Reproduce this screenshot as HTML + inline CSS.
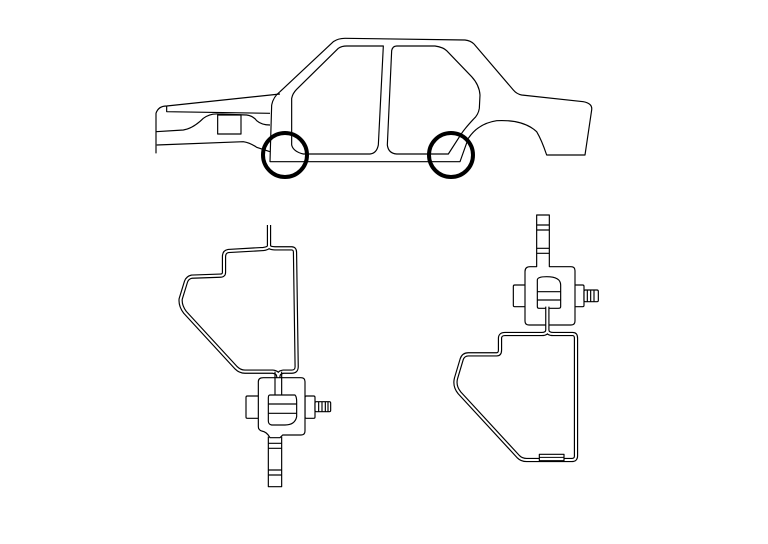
<!DOCTYPE html>
<html><head><meta charset="utf-8"><style>html,body{margin:0;padding:0;background:#fff}svg{display:block}</style></head>
<body>
<svg width="768" height="544" viewBox="0 0 768 544" xmlns="http://www.w3.org/2000/svg">
<rect width="768" height="544" fill="#fff"/>
<!-- Car -->
<g transform="translate(150,30) scale(0.33333)" fill="none" stroke="#000" stroke-width="3.5" stroke-linejoin="round">
 <path d="M365,225 Q370,200 390,185 L550,35 Q565,25 585,25 L945,30 Q962,32 972,42 L1090,180 Q1100,192 1115,195 L1300,215 Q1328,220 1325,240 L1305,375 L1190,375 Q1175,330 1160,305 Q1120,268 1040,272 Q985,280 955,325"/>
 <path d="M365,225 L360,395 L930,395 L955,325"/>
 <path d="M425,205 Q428,190 440,178 L565,55 Q575,48 590,48 L700,48 L685,345 Q680,370 660,372 L460,372 Q430,365 425,345 Z"/>
 <path d="M740,48 L855,48 Q880,52 890,62 L965,140 Q988,165 990,195 L988,235 Q985,255 970,268 Q945,295 935,310 L895,372 L740,372 Q715,370 712,345 L725,62 Q728,48 740,48"/>
 <path d="M50,228 L390,192"/>
 <path d="M50,228 Q25,228 18,250 L18,370"/>
 <path d="M50,228 L50,245 L360,250"/>
 <path d="M18,305 L100,300 Q130,295 160,265 Q180,250 205,252 L290,255 Q310,258 320,272 Q335,285 360,285"/>
 <path d="M20,345 L280,335 Q300,338 320,352 L360,365"/>
 <rect x="203" y="255" width="70" height="57"/>
 <circle cx="405" cy="375" r="66" stroke-width="12"/>
 <circle cx="903" cy="375" r="66" stroke-width="12"/>
</g>
<!-- Bracket 1 -->
<g transform="translate(160,215) scale(0.33333)" fill="none" stroke-linejoin="round">
 <path d="M327,30 L327,92 Q327,100 345,100 L395,100 Q405,100 405,112 L410,455 Q410,470 395,470 L370,470 Q355,472 355,485 L355,545 M327,92 Q327,100 310,102 L205,108 Q192,110 192,125 L192,172 Q192,182 180,182 L95,185 Q82,188 78,200 L62,252 Q60,272 75,292 L228,458 Q240,470 255,470 L338,470 Q355,472 355,485" stroke="#000" stroke-width="13"/>
 <path d="M327,28 L327,92 Q327,100 345,100 L395,100 Q405,100 405,112 L410,455 Q410,470 395,470 L370,470 Q355,472 355,485 L355,547 M327,92 Q327,100 310,102 L205,108 Q192,110 192,125 L192,172 Q192,182 180,182 L95,185 Q82,188 78,200 L62,252 Q60,272 75,292 L228,458 Q240,470 255,470 L338,470 Q355,472 355,485" stroke="#fff" stroke-width="6"/>
 <g stroke="#000" stroke-width="3.5" fill="#fff">
  <rect x="258" y="543" width="42" height="67" rx="4"/>
  <rect x="435" y="543" width="30" height="67" rx="4"/>
  <rect x="465" y="560" width="47" height="30" rx="4"/>
  <path d="M476,560V590M486,560V590M496,560V590M504,560V590" fill="none"/>
  <path d="M325,665 L325,815 L365,815 L365,665" />
  <path d="M325,685H365M325,700H365M325,765H365M325,780H365" fill="none"/>
  <path d="M310,488 L423,488 Q435,488 435,500 L435,648 Q435,660 423,660 L368,660 L360,668 L330,668 Q320,650 305,648 Q295,645 295,635 L295,500 Q295,488 310,488 Z"/>
  <path d="M330,540 L405,540 Q410,545 410,560 L410,605 Q405,630 375,630 L335,630 Q325,628 325,618 L325,548 Q325,540 330,540 Z"/>
  <path d="M325,567H410M325,595H410" fill="none"/>
  <path d="M345,470 L345,540 M365,470 L365,540" fill="none"/>
 </g>
</g>
<!-- Bracket 2 -->
<g transform="translate(440,210) scale(0.33333)" fill="none" stroke-linejoin="round">
 <g stroke="#000" stroke-width="3.5" fill="#fff">
  <rect x="220" y="225" width="38" height="65" rx="4"/>
  <rect x="400" y="225" width="32" height="65" rx="4"/>
  <rect x="432" y="240" width="43" height="35" rx="4"/>
  <path d="M442,240V275M452,240V275M462,240V275" fill="none"/>
  <path d="M270,170 L290,170 L290,15 L328,15 L328,170 L393,170 Q405,170 405,182 L405,333 Q405,345 393,345 L267,345 Q255,345 255,333 L255,185 Q255,170 270,170 Z"/>
  <path d="M290,45H328M290,60H328M290,115H328M290,130H328" fill="none"/>
  <path d="M320,200 Q362,200 362,225 L362,290 Q362,295 355,295 L297,295 Q292,295 292,290 L292,210 Q292,200 320,200 Z"/>
  <path d="M292,245H362M292,270H362" fill="none"/>
 </g>
 <path d="M322,290 L322,360 Q322,372 340,372 L398,372 Q408,372 408,385 L408,738 Q408,750 395,750 L260,750 Q245,750 235,740 L58,548 Q42,528 48,505 L65,448 Q70,433 85,433 L170,433 Q180,433 180,420 L180,385 Q180,372 195,372 L305,372 Q322,372 322,360" stroke="#000" stroke-width="13"/>
 <path d="M322,285 L322,360 Q322,372 340,372 L398,372 Q408,372 408,385 L408,738 Q408,750 395,750 L260,750 Q245,750 235,740 L58,548 Q42,528 48,505 L65,448 Q70,433 85,433 L170,433 Q180,433 180,420 L180,385 Q180,372 195,372 L305,372 Q322,372 322,360" stroke="#fff" stroke-width="6"/>
 <rect x="298" y="733" width="74" height="19" stroke="#000" stroke-width="3.5" fill="#fff"/>
 <path d="M298,742H372" stroke="#000" stroke-width="3"/>
</g>
</svg>
</body></html>
